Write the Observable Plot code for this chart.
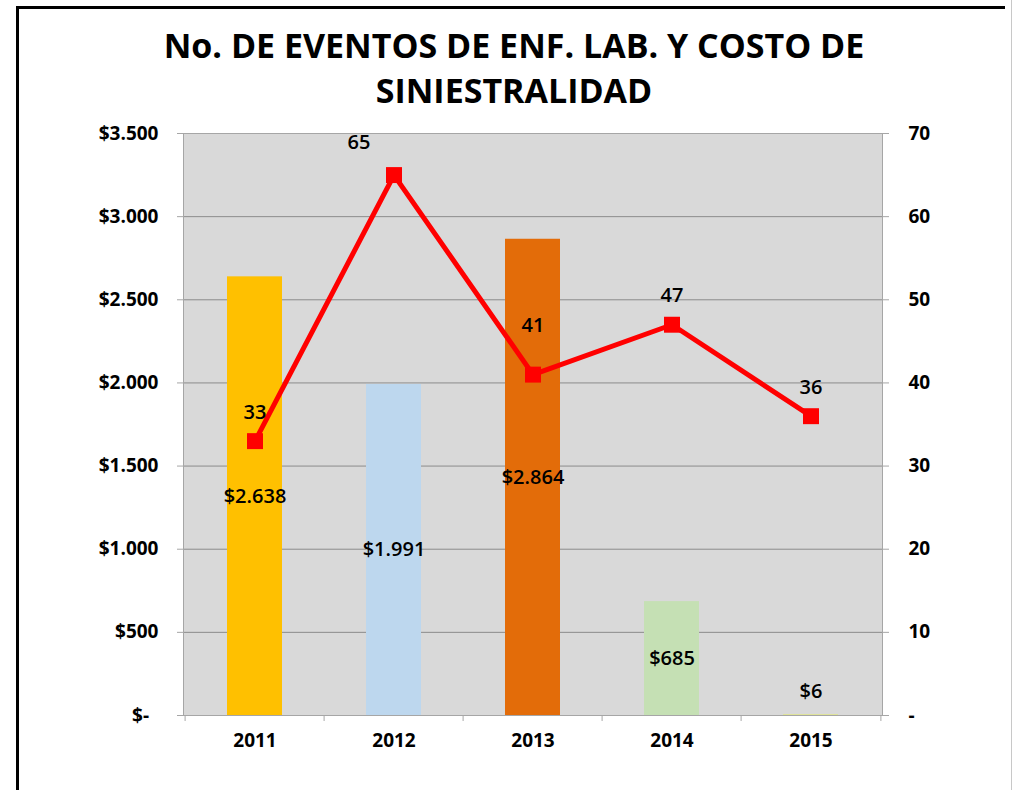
<!DOCTYPE html>
<html>
<head>
<meta charset="utf-8">
<script src="https://cdn.jsdelivr.net/npm/d3@7"></script>
<script src="https://cdn.jsdelivr.net/npm/@observablehq/plot@0.6"></script>
<style>
  html, body { margin: 0; padding: 0; background: #fff; }
  #wrap { position: relative; width: 1013px; height: 790px; overflow: hidden; font-family: "Open Sans", sans-serif; }
  #borderTop { position: absolute; left: 16px; top: 6px; width: 989px; height: 3px; background: #000; }
  #borderLeft { position: absolute; left: 16px; top: 6px; width: 3px; height: 800px; background: #000; }
  #borderRight { position: absolute; left: 1011px; top: 0; width: 1px; height: 800px; background: #c8c8c8; }
  #title { position: absolute; left: 0; top: 23px; width: 1028px; text-align: center; font-weight: 700; font-size: 34px; line-height: 45px; color: #000; }
  #chart { position: absolute; left: 0; top: 0; }
</style>
</head>
<body>
<div id="wrap">
  <div id="chart"></div>
  <div id="borderTop"></div>
  <div id="borderLeft"></div>
  <div id="borderRight"></div>
  <div id="title">No. DE EVENTOS DE ENF. LAB. Y COSTO DE<br>SINIESTRALIDAD</div>
</div>
<script>
// ---- data ----
const years = ["2011", "2012", "2013", "2014", "2015"];
const costs = [2638, 1991, 2864, 685, 6];          // left axis, $ (millions)
const events = [33, 65, 41, 47, 36];                // right axis, No. de eventos
const leftTicks = [0, 500, 1000, 1500, 2000, 2500, 3000, 3500];
const rightMax = 70;                                // right axis 0..70
const leftMax = 3500;
const barColors = ["#ffc000", "#bdd7ee", "#e36c09", "#c5e0b4", "#dfe39a"];

const data = years.map((y, i) => ({year: y, cost: costs[i], events: events[i]}));
const k = leftMax / rightMax; // map right-axis values to left scale

const loc = d3.formatLocale({decimal: ",", thousands: ".", grouping: [3], currency: ["$", ""]});
const money = loc.format("$,");
const moneyTick = d => d === 0 ? "$-\u2002" : money(d);

const font = "Open Sans";
const labelSize = 20;
const labelWeight = 600;

const plot = Plot.plot({
  width: 1013,
  height: 790,
  marginLeft: 183,
  marginRight: 131,
  marginTop: 133,
  marginBottom: 75,
  style: {fontFamily: font, color: "#000", background: "transparent"},
  x: {type: "band", domain: years, padding: 0},
  y: {domain: [0, leftMax]},
  color: {domain: years, range: barColors},
  marks: [
    Plot.frame({fill: "#d9d9d9", stroke: "none"}),
    Plot.gridY(leftTicks, {stroke: "#8c8c8c", strokeOpacity: 1, strokeWidth: 1}),
    Plot.frame({stroke: "#a6a6a6", fill: "none"}),
    Plot.barY(data, {x: "year", y: "cost", fill: "year", insetLeft: 42, insetRight: 42}),
    // category boundary ticks under x axis
    Plot.ruleX(data, {x: "year", dx: -69.9, y1: 0, y2: -36, stroke: "#a6a6a6"}),
    Plot.ruleX(data.slice(-1), {x: "year", dx: 69.9, y1: 0, y2: -36, stroke: "#a6a6a6"}),
    Plot.axisY(leftTicks, {anchor: "left", tickSize: 6, tickPadding: 19, tickFormat: moneyTick,
      stroke: "#a6a6a6", fontSize: 19, fontWeight: "bold", label: null}),
    Plot.axisY(leftTicks, {anchor: "right", tickSize: 6, tickPadding: 20,
      tickFormat: d => d === 0 ? "-" : String(d / k), stroke: "#a6a6a6",
      fontSize: 19, fontWeight: "bold", label: null}),
    Plot.axisX({tickSize: 0, tickPadding: 18, fontSize: 19, fontWeight: "bold", label: null}),
    // bar labels
    Plot.text(data.filter(d => d.cost >= 100), {x: "year", y: d => d.cost / 2, text: d => money(d.cost),
      fontSize: labelSize, fontWeight: labelWeight, fill: "#000"}),
    Plot.text(data.filter(d => d.cost < 100), {x: "year", y: "cost", dy: -23, text: d => money(d.cost),
      fontSize: labelSize, fontWeight: labelWeight, fill: "#000"}),
    // events line
    Plot.line(data, {x: "year", y: d => d.events * k, stroke: "#ff0000", strokeWidth: 5}),
    Plot.dot(data, {x: "year", y: d => d.events * k, symbol: "square", r: 9, fill: "#ff0000", stroke: "none"}),
    // event labels
    Plot.text(data.filter(d => d.year === "2011" || d.year === "2014" || d.year === "2015"),
      {x: "year", y: d => d.events * k, dy: -29, text: d => String(d.events), fontSize: labelSize, fontWeight: labelWeight, fill: "#000"}),
    Plot.text(data.filter(d => d.year === "2012"),
      {x: "year", y: d => d.events * k, dx: -35, dy: -32, text: d => String(d.events), fontSize: labelSize, fontWeight: labelWeight, fill: "#000"}),
    Plot.text(data.filter(d => d.year === "2013"),
      {x: "year", y: d => d.events * k, dy: -49, text: d => String(d.events), fontSize: labelSize, fontWeight: labelWeight, fill: "#000"})
  ]
});
document.getElementById("chart").appendChild(plot);
</script>
</body>
</html>
